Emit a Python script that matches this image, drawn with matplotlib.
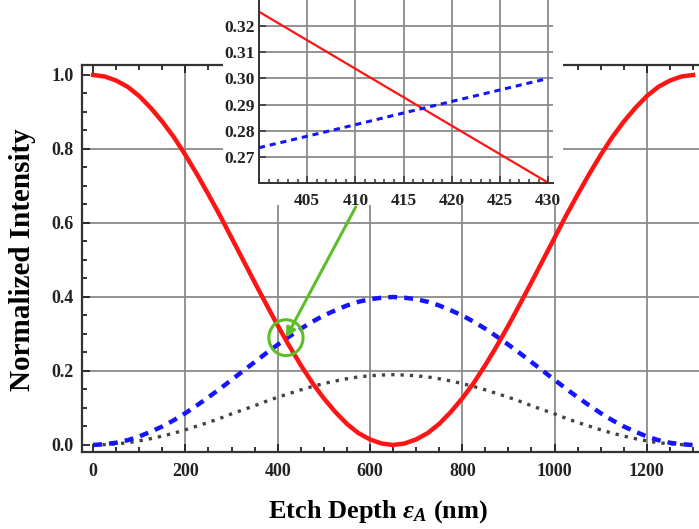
"""
Normalized output intensity vs etch depth, with a zoomed inset
around the red/blue crossing point.
"""

import matplotlib
matplotlib.use("Agg")
import matplotlib.pyplot as plt
from matplotlib.patches import Ellipse, Rectangle
from matplotlib.ticker import MultipleLocator

plt.rcParams['font.family'] = ['Liberation Serif', 'DejaVu Serif']
plt.rcParams['font.weight'] = 'bold'
plt.rcParams['mathtext.fontset'] = 'custom'
plt.rcParams['mathtext.rm'] = 'Liberation Serif:bold'
plt.rcParams['mathtext.it'] = 'Liberation Serif:italic:bold'
plt.rcParams['mathtext.bf'] = 'Liberation Serif:bold'

# --- data (etch depth in nm) ---
depth = [0, 25, 50, 75, 100, 125, 150, 175, 200, 225, 250, 275, 300, 325,
         350, 375, 400, 425, 450, 475, 500, 525, 550, 575, 600, 625, 650,
         675, 700, 725, 750, 775, 800, 825, 850, 875, 900, 925, 950, 975,
         1000, 1025, 1050, 1075, 1100, 1125, 1150, 1175, 1200, 1225, 1250,
         1275, 1300]
red = [1.000, 0.996, 0.985, 0.968, 0.943, 0.911, 0.874, 0.832, 0.784, 0.732,
       0.677, 0.620, 0.560, 0.500, 0.440, 0.381, 0.323, 0.268, 0.216, 0.168,
       0.126, 0.089, 0.057, 0.032, 0.015, 0.004, 0.000,
       0.004, 0.015, 0.032, 0.057, 0.089, 0.126, 0.168, 0.216, 0.268, 0.323,
       0.381, 0.440, 0.500, 0.560, 0.620, 0.677, 0.732, 0.784, 0.832, 0.874,
       0.911, 0.943, 0.968, 0.985, 0.996, 1.000]
blue = [0.000, 0.002, 0.006, 0.013, 0.023, 0.036, 0.050, 0.067, 0.086, 0.107,
        0.129, 0.152, 0.176, 0.200, 0.224, 0.248, 0.271, 0.293, 0.314, 0.333,
        0.350, 0.364, 0.377, 0.387, 0.394, 0.398, 0.400,
        0.398, 0.394, 0.387, 0.377, 0.364, 0.350, 0.333, 0.314, 0.293, 0.271,
        0.248, 0.224, 0.200, 0.176, 0.152, 0.129, 0.107, 0.086, 0.067, 0.050,
        0.036, 0.023, 0.013, 0.006, 0.002, 0.000]
black = [0.000, 0.001, 0.003, 0.006, 0.011, 0.017, 0.024, 0.032, 0.041, 0.051,
         0.061, 0.072, 0.084, 0.095, 0.106, 0.118, 0.129, 0.139, 0.149, 0.158,
         0.166, 0.173, 0.179, 0.184, 0.187, 0.189, 0.190,
         0.189, 0.187, 0.184, 0.179, 0.173, 0.166, 0.158, 0.149, 0.139, 0.129,
         0.118, 0.106, 0.095, 0.084, 0.072, 0.061, 0.051, 0.041, 0.032, 0.024,
         0.017, 0.011, 0.006, 0.003, 0.001, 0.000]

# zoomed region
zoom_depth = [400, 405, 410, 415, 420, 425, 430]
zoom_red = [0.3255, 0.3146, 0.3037, 0.2928, 0.2819, 0.2710, 0.2601]
zoom_blue = [0.2735, 0.2779, 0.2823, 0.2868, 0.2912, 0.2956, 0.3000]
crossing = (418, 0.290)

RED = '#ff1414'
BLUE = '#1414ff'
GREEN = '#5cbf2a'
GRID = '#8a8a8a'

W, H = 699, 529
fig = plt.figure(figsize=(W / 100, H / 100), dpi=100)

# --- main axes ---
ax = fig.add_axes([82 / W, 1 - 452 / H, (W - 82) / W, (452 - 65) / H])
for x in [200, 400, 600, 800, 1000, 1200]:
    ax.axvline(x, color=GRID, lw=1.3, zorder=0)
for y in [0.2, 0.4, 0.6, 0.8]:
    ax.axhline(y, color=GRID, lw=1.3, zorder=0)

ax.plot(depth, black, color='#444444', lw=2.4, linestyle=(0, (1, 1.8)))
ax.plot(depth, blue, color=BLUE, lw=3.2, linestyle=(0, (2.0, 1.6)))
ax.plot(depth, red, color=RED, lw=3.2)

ax.set_xlim(-24, 1313)
ax.set_ylim(-0.019, 1.027)
ax.xaxis.set_major_locator(MultipleLocator(200))
ax.xaxis.set_minor_locator(MultipleLocator(50))
ax.yaxis.set_major_locator(MultipleLocator(0.2))
ax.yaxis.set_minor_locator(MultipleLocator(0.05))
ax.yaxis.set_major_formatter(plt.FormatStrFormatter('%.1f'))
ax.tick_params(which='both', direction='in', top=True, right=False,
               width=1.3, color='#222222', labelsize=13, labelcolor='#222222')
ax.tick_params(axis='x', which='major', length=6, pad=8)
ax.tick_params(axis='y', which='major', length=6, pad=6)
ax.tick_params(which='minor', length=3.5)
for side in ['left', 'bottom', 'top']:
    ax.spines[side].set_linewidth(1.6)
    ax.spines[side].set_color('#333333')
ax.spines['right'].set_visible(False)

ax.add_patch(Ellipse(crossing, 74, 0.097, fill=False, edgecolor=GREEN,
                     lw=2.2, zorder=5))
ax.annotate('', xy=(415, 0.283), xytext=(572, 0.650),
            arrowprops=dict(arrowstyle='-|>', color=GREEN, lw=2.2,
                            mutation_scale=14),
            annotation_clip=False, zorder=5)

fig.text(378 / W, 1 - 512 / H, r'Etch Depth $\varepsilon_A$ (nm)',
         ha='center', va='center', fontsize=19, fontweight='bold')
fig.text(23 / W, 1 - 260 / H, 'Normalized Intensity', rotation=90,
         ha='center', va='center', fontsize=21, fontweight='bold')

# --- white backing box + inset ---
fig.add_artist(Rectangle((223 / W, 1 - 205 / H), (563 - 223) / W, 205 / H,
                         transform=fig.transFigure, facecolor='white',
                         edgecolor='none', zorder=2))

ins = fig.add_axes([259 / W, 1 - 183 / H, (553 - 259) / W, 183 / H], zorder=3)
ins.plot(zoom_depth, zoom_red, color=RED, lw=1.6)
ins.plot(zoom_depth, zoom_blue, color=BLUE, lw=2.2, linestyle=(0, (2.0, 1.6)))
ins.set_xlim(400, 430.5)
ins.set_ylim(0.26, 0.33)
ins.xaxis.set_minor_locator(MultipleLocator(1))
ins.set_xticks([405, 410, 415, 420, 425, 430])
ins.set_yticks([0.27, 0.28, 0.29, 0.30, 0.31, 0.32])
ins.yaxis.set_major_formatter(plt.FormatStrFormatter('%.2f'))
for x in [405, 410, 415, 420, 425, 430]:
    ins.axvline(x, color=GRID, lw=1.3, zorder=0)
for y in [0.27, 0.28, 0.29, 0.30, 0.31, 0.32]:
    ins.axhline(y, color=GRID, lw=1.3, zorder=0)
ins.tick_params(which='both', direction='in', width=1.1, color='#333333',
                labelsize=12.5, labelcolor='#222222')
ins.tick_params(which='major', length=5)
ins.tick_params(which='minor', length=3)
ins.tick_params(axis='x', pad=7)
ins.tick_params(axis='y', pad=3)
ins.spines['top'].set_visible(False)
ins.spines['right'].set_visible(False)
for side in ['left', 'bottom']:
    ins.spines[side].set_linewidth(1.4)
    ins.spines[side].set_color('#333333')

fig.savefig('out.png', dpi=100)
